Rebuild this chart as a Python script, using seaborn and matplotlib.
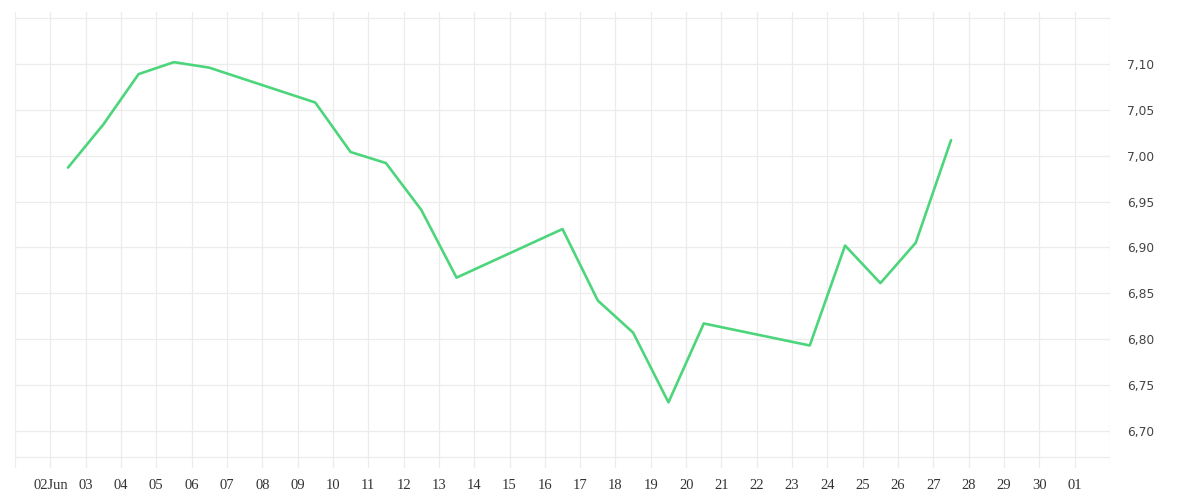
import matplotlib
matplotlib.use("Agg")
import matplotlib.pyplot as plt
import matplotlib.dates as mdates
from matplotlib.ticker import FuncFormatter, FixedLocator
import seaborn as sns
import pandas as pd
import numpy as np

# ---- data ----
dates = [
    "2025-06-02 12:00", "2025-06-03 12:00", "2025-06-04 12:00", "2025-06-05 12:00",
    "2025-06-06 12:00", "2025-06-09 12:00", "2025-06-10 12:00", "2025-06-11 12:00",
    "2025-06-12 12:00", "2025-06-13 12:00", "2025-06-16 12:00", "2025-06-17 12:00",
    "2025-06-18 12:00", "2025-06-19 12:00", "2025-06-20 12:00", "2025-06-23 12:00",
    "2025-06-24 12:00", "2025-06-25 12:00", "2025-06-26 12:00", "2025-06-27 12:00",
]
values = [
    6.987, 7.034, 7.089, 7.102, 7.096, 7.058, 7.004, 6.992, 6.941, 6.867,
    6.920, 6.842, 6.807, 6.731, 6.817, 6.793, 6.902, 6.861, 6.905, 7.017,
]
tick_days = pd.date_range("2025-06-02", "2025-07-01", freq="D")
tick_labels = ["02Jun"] + [d.strftime("%d") for d in tick_days[1:]]
y_ticks = [6.70, 6.75, 6.80, 6.85, 6.90, 6.95, 7.00, 7.05, 7.10, 7.15]
y_labels_shown = [6.70, 6.75, 6.80, 6.85, 6.90, 6.95, 7.00, 7.05, 7.10]

df = pd.DataFrame({"date": pd.to_datetime(dates), "value": values})

sns.set_theme(style="white")
plt.rcParams["font.family"] = ["DejaVu Sans"]

grid_c = "#ececec"
line_c = "#4cd57b"

fig = plt.figure(figsize=(12, 5), dpi=100)
ax = fig.add_axes([15 / 1200, 1 - 468 / 500, (1110 - 15) / 1200, (468 - 12) / 500])

sns.lineplot(data=df, x="date", y="value", ax=ax, color=line_c, linewidth=1.9, zorder=3)

ax.set_xlim(pd.Timestamp("2025-06-01"), pd.Timestamp("2025-07-02"))
ax.set_ylim(6.6594, 7.1567)

# x ticks
ax.xaxis.set_major_locator(FixedLocator(mdates.date2num(tick_days)))
ax.set_xticklabels(tick_labels, family="Liberation Serif", fontsize=10.5, color="#333333")
ax.xaxis.set_minor_locator(FixedLocator(mdates.date2num(
    [pd.Timestamp("2025-06-01"), pd.Timestamp("2025-07-02")])))

# y ticks on right
ax.yaxis.tick_right()
ax.yaxis.set_major_locator(FixedLocator(y_ticks))
ax.yaxis.set_major_formatter(FuncFormatter(
    lambda v, p: (f"{v:.2f}".replace(".", ",") if any(abs(v - s) < 1e-9 for s in y_labels_shown) else "")))
ax.tick_params(axis="y", length=0, pad=12, labelsize=8.8, labelcolor="#444444")
ax.tick_params(axis="x", which="both", length=0, pad=8)

ax.grid(True, which="major", color=grid_c, linewidth=0.9)
ax.grid(True, which="minor", axis="x", color=grid_c, linewidth=0.9)
ax.axhline(6.671, color=grid_c, linewidth=0.9, zorder=0)

for s in ax.spines.values():
    s.set_visible(False)

ax.set_xlabel("")
ax.set_ylabel("")

fig.savefig("out.png", dpi=100)
